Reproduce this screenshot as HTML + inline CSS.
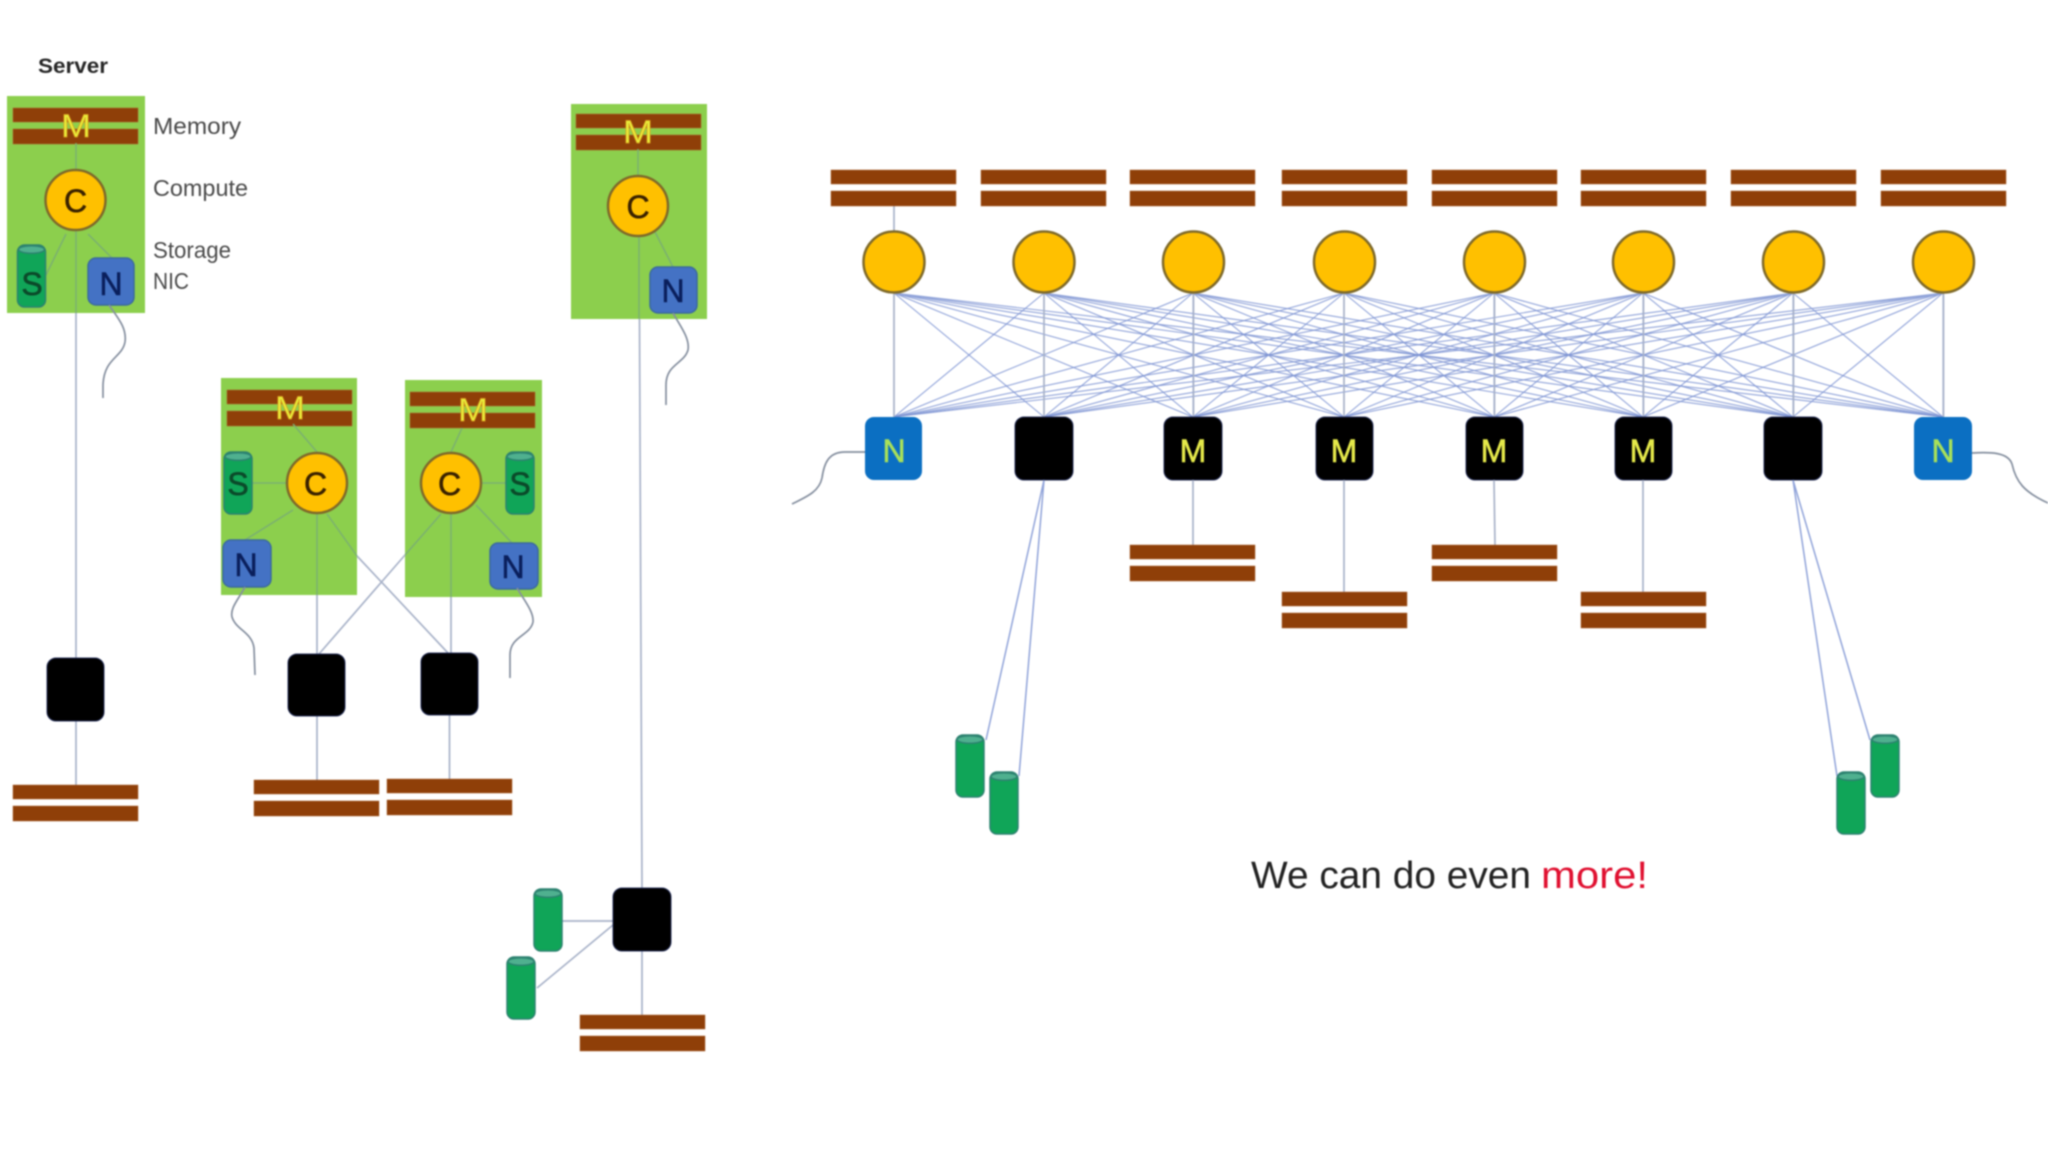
<!DOCTYPE html>
<html>
<head>
<meta charset="utf-8">
<title>Server disaggregation diagram</title>
<style>
html,body{margin:0;padding:0;background:#fff;width:2048px;height:1152px;overflow:hidden}
svg{display:block;filter:blur(.8px)}
text{font-family:"Liberation Sans",sans-serif}
.b{fill:#8f3f08;stroke:#a8622f;stroke-width:.5}
.g{fill:#8ccf4d}
.c{fill:#ffc000;stroke:#7f6a2a;stroke-width:2.5}
.l{stroke:#a9b3c9;stroke-width:1.7;fill:none}
.gl{stroke:#7bb070;stroke-width:1.5;fill:none}
.w{stroke:#858f9f;stroke-width:1.7;fill:none}
.m{stroke:#7d93d2;stroke-width:1.1;fill:none;opacity:.85}
.t{font-size:32px;text-anchor:middle}
.d{stroke-width:.6px}
.y{fill:#e8ee3a;stroke:#d9a21f;stroke-width:.7px}
.n{fill:#4472c4;stroke:#3b6a9e;stroke-width:1.5}
.k{fill:#000;stroke:#27305a;stroke-width:1}
.lab{font-size:23px;fill:#4a4a4a}
</style>
</head>
<body>
<svg width="2048" height="1152" viewBox="0 0 2048 1152" xmlns="http://www.w3.org/2000/svg">
<defs>
<g id="cy">
<rect x="0" y="0" width="28" height="62" rx="7" fill="#10a558" stroke="#2d8270" stroke-width="1.5"/>
<ellipse cx="14" cy="4.5" rx="13" ry="3.8" fill="#4fb08f" stroke="#2d8270" stroke-width="1.5"/>
</g>
<g id="br">
<rect class="b" x="0" y="0" width="125" height="14"/>
<rect class="b" x="0" y="21" width="125" height="15"/>
</g>
</defs>
<rect width="2048" height="1152" fill="#fff"/>

<!-- Server 1 -->
<text x="38" y="73" font-size="21" font-weight="bold" fill="#262626" textLength="70" lengthAdjust="spacingAndGlyphs">Server</text>
<text class="lab" x="153" y="134" textLength="88" lengthAdjust="spacingAndGlyphs">Memory</text>
<text class="lab" x="153" y="196" textLength="95" lengthAdjust="spacingAndGlyphs">Compute</text>
<text class="lab" x="153" y="258" textLength="78" lengthAdjust="spacingAndGlyphs">Storage</text>
<text class="lab" x="153" y="289" textLength="36" lengthAdjust="spacingAndGlyphs">NIC</text>
<rect class="g" x="7" y="96" width="138" height="217"/>
<use href="#br" x="13" y="108"/>
<text class="t y" x="76" y="137" textLength="30" lengthAdjust="spacingAndGlyphs">M</text>
<path class="gl" d="M76 143V169M66 234L46 275M88 234L112 258M76 231V313"/>
<path class="l" d="M76 313V658M76 721V785"/>
<circle class="c" cx="75.5" cy="200" r="30"/>
<text class="t d" x="75.5" y="212" fill="#3a2200" stroke="#3a2200">C</text>
<use href="#cy" x="17.5" y="245"/>
<text class="t d" x="32" y="295" fill="#0b4a2a" stroke="#0b4a2a">S</text>
<rect class="n" x="88" y="258" width="46" height="47" rx="8"/>
<text class="t d" x="111" y="295" fill="#0a1f5c" stroke="#0a1f5c">N</text>
<path class="w" d="M109 305C118 318 127 328 125 342C122 358 104 358 103 385L103 398"/>
<rect class="k" x="47" y="658" width="57" height="63" rx="9"/>
<use href="#br" x="13" y="785"/>

<!-- Server 2 and 3 -->
<rect class="g" x="221" y="378" width="136" height="217"/>
<rect class="g" x="405" y="380" width="137" height="217"/>
<use href="#br" x="227" y="390"/>
<use href="#br" x="410" y="392"/>
<text class="t y" x="290" y="419" textLength="30" lengthAdjust="spacingAndGlyphs">M</text>
<text class="t y" x="473" y="421" textLength="30" lengthAdjust="spacingAndGlyphs">M</text>
<path class="gl" d="M293 424L317 452M252 483H286M293 510L245 540M462 428L451 452M482 483H506M476 505L512 543M317 514V595M451 514V597M327 514L357 556M441 514L405 555"/>
<path class="l" d="M317 595V654M451 597V653M357 556L448 653M405 555L319 654M317 716V780M449.5 715V779"/>
<circle class="c" cx="317" cy="483" r="30"/>
<text class="t d" x="315.5" y="495" fill="#3a2200" stroke="#3a2200">C</text>
<circle class="c" cx="451" cy="483" r="30"/>
<text class="t d" x="449.5" y="495" fill="#3a2200" stroke="#3a2200">C</text>
<use href="#cy" x="224" y="452"/>
<text class="t d" x="238" y="495" fill="#0b4a2a" stroke="#0b4a2a">S</text>
<use href="#cy" x="506" y="452"/>
<text class="t d" x="520" y="495" fill="#0b4a2a" stroke="#0b4a2a">S</text>
<rect class="n" x="223" y="540" width="48" height="47" rx="8"/>
<text class="t d" x="246" y="576" fill="#0a1f5c" stroke="#0a1f5c">N</text>
<rect class="n" x="490" y="543" width="48" height="46" rx="8"/>
<text class="t d" x="513" y="578" fill="#0a1f5c" stroke="#0a1f5c">N</text>
<path class="w" d="M245 587C238 600 230 608 232 617C236 630 252 632 254 648L255 675"/>
<path class="w" d="M517 588C524 600 534 612 533 622C530 636 510 636 510 655L510 678"/>
<rect class="k" x="288" y="654" width="57" height="62" rx="9"/>
<rect class="k" x="421" y="653" width="57" height="62" rx="9"/>
<use href="#br" x="254" y="780"/>
<use href="#br" x="387" y="779"/>

<!-- Server 4 -->
<rect class="g" x="571" y="104" width="136" height="215"/>
<use href="#br" x="576" y="114"/>
<text class="t y" x="638" y="143" textLength="30" lengthAdjust="spacingAndGlyphs">M</text>
<path class="gl" d="M638 149V176M655 232L673 267M639 237V319"/>
<path class="l" d="M639.5 319L642 888M642 951V1015M562 921H613M537 988L613 925"/>
<circle class="c" cx="638" cy="206" r="30"/>
<text class="t d" x="638" y="218" fill="#3a2200" stroke="#3a2200">C</text>
<rect class="n" x="650" y="267" width="47" height="46" rx="8"/>
<text class="t d" x="673" y="302" fill="#0a1f5c" stroke="#0a1f5c">N</text>
<path class="w" d="M673 313C680 326 690 338 688 350C684 364 666 364 666 385L666 405"/>
<rect class="k" x="613" y="888" width="58" height="63" rx="9"/>
<use href="#cy" x="534" y="889"/>
<use href="#cy" x="507" y="957"/>
<use href="#br" x="580" y="1015"/>

<!-- Disaggregated mesh -->
<path class="m" d="M894 293L894 417M894 293L1044 417M894 293L1193 417M894 293L1344 417M894 293L1494 417M894 293L1643 417M894 293L1793 417M894 293L1943 417"/>
<path class="m" d="M1044 293L894 417M1044 293L1044 417M1044 293L1193 417M1044 293L1344 417M1044 293L1494 417M1044 293L1643 417M1044 293L1793 417M1044 293L1943 417"/>
<path class="m" d="M1193 293L894 417M1193 293L1044 417M1193 293L1193 417M1193 293L1344 417M1193 293L1494 417M1193 293L1643 417M1193 293L1793 417M1193 293L1943 417"/>
<path class="m" d="M1344 293L894 417M1344 293L1044 417M1344 293L1193 417M1344 293L1344 417M1344 293L1494 417M1344 293L1643 417M1344 293L1793 417M1344 293L1943 417"/>
<path class="m" d="M1494 293L894 417M1494 293L1044 417M1494 293L1193 417M1494 293L1344 417M1494 293L1494 417M1494 293L1643 417M1494 293L1793 417M1494 293L1943 417"/>
<path class="m" d="M1643 293L894 417M1643 293L1044 417M1643 293L1193 417M1643 293L1344 417M1643 293L1494 417M1643 293L1643 417M1643 293L1793 417M1643 293L1943 417"/>
<path class="m" d="M1793 293L894 417M1793 293L1044 417M1793 293L1193 417M1793 293L1344 417M1793 293L1494 417M1793 293L1643 417M1793 293L1793 417M1793 293L1943 417"/>
<path class="m" d="M1943 293L894 417M1943 293L1044 417M1943 293L1193 417M1943 293L1344 417M1943 293L1494 417M1943 293L1643 417M1943 293L1793 417M1943 293L1943 417"/>
<path class="l" d="M894 205V231M894 293V417M1044 293V417M1193.5 293V417M1344 293V417M1494.5 293V417M1643.5 293V417M1793.5 293V417M1943.5 293V417"/>

<use href="#br" x="831" y="170"/>
<use href="#br" x="981" y="170"/>
<use href="#br" x="1130" y="170"/>
<use href="#br" x="1282" y="170"/>
<use href="#br" x="1432" y="170"/>
<use href="#br" x="1581" y="170"/>
<use href="#br" x="1731" y="170"/>
<use href="#br" x="1881" y="170"/>

<circle class="c" cx="894" cy="262" r="30.5"/>
<circle class="c" cx="1044" cy="262" r="30.5"/>
<circle class="c" cx="1193.5" cy="262" r="30.5"/>
<circle class="c" cx="1344.5" cy="262" r="30.5"/>
<circle class="c" cx="1494.5" cy="262" r="30.5"/>
<circle class="c" cx="1643.5" cy="262" r="30.5"/>
<circle class="c" cx="1793.5" cy="262" r="30.5"/>
<circle class="c" cx="1943.5" cy="262" r="30.5"/>

<rect x="865" y="417" width="57" height="63" rx="9" fill="#0b6fc2"/>
<text class="t d" x="894" y="462" fill="#a8e05a" stroke="#a8e05a" font-size="31">N</text>
<rect class="k" x="1015" y="417" width="58" height="63" rx="9"/>
<rect class="k" x="1164" y="417" width="58" height="63" rx="9"/>
<text class="t d" x="1193" y="462" fill="#e5e94a" stroke="#e5e94a">M</text>
<rect class="k" x="1316" y="417" width="57" height="63" rx="9"/>
<text class="t d" x="1344" y="462" fill="#e5e94a" stroke="#e5e94a">M</text>
<rect class="k" x="1466" y="417" width="57" height="63" rx="9"/>
<text class="t d" x="1494" y="462" fill="#e5e94a" stroke="#e5e94a">M</text>
<rect class="k" x="1615" y="417" width="57" height="63" rx="9"/>
<text class="t d" x="1643" y="462" fill="#e5e94a" stroke="#e5e94a">M</text>
<rect class="k" x="1764" y="417" width="58" height="63" rx="9"/>
<rect x="1914" y="417" width="58" height="63" rx="9" fill="#0b6fc2"/>
<text class="t d" x="1943" y="462" fill="#a8e05a" stroke="#a8e05a" font-size="31">N</text>

<path class="w" d="M865 452H845C828 452 824 464 822 478C819 492 806 497 792 504"/>
<path class="w" d="M1972 453C1990 452 2008 452 2012 464C2016 482 2024 492 2048 503"/>

<path class="l" d="M1193 480V545M1344 480V592M1494 480L1495 545M1643 480V592"/>
<path class="m" style="stroke-width:1.5" d="M1044 480L986 740M1044 480L1019 776M1793 480L1837 776M1793 480L1870 740"/>

<use href="#br" x="1130" y="545"/>
<use href="#br" x="1282" y="592"/>
<use href="#br" x="1432" y="545"/>
<use href="#br" x="1581" y="592"/>

<use href="#cy" x="956" y="735"/>
<use href="#cy" x="990" y="772"/>
<use href="#cy" x="1837" y="772"/>
<use href="#cy" x="1871" y="735"/>

<text x="1251" y="888" font-size="38" fill="#222" textLength="280" lengthAdjust="spacingAndGlyphs">We can do even</text>
<text x="1541" y="888" font-size="38" fill="#e01030" textLength="107" lengthAdjust="spacingAndGlyphs">more!</text>
</svg>
</body>
</html>
